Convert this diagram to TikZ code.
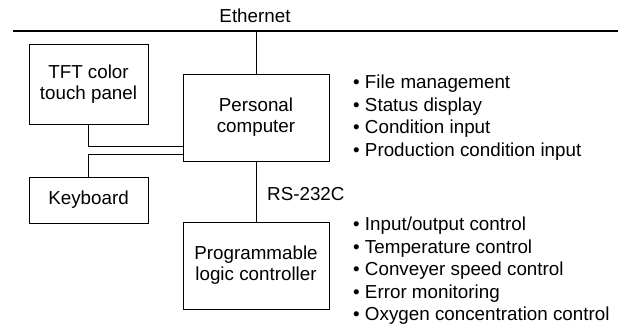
\documentclass[tikz,border=0pt]{standalone}
\usepackage{fontspec}
\setmainfont{Liberation Sans}
\begin{document}
\begin{tikzpicture}[x=1pt,y=-1pt,
  font=\fontsize{18.8}{21}\selectfont,
  unit/.style={draw, line width=1pt, align=center, inner sep=0pt},
  item/.style={anchor=base west, inner sep=0pt},
  wire/.style={line width=1pt}]
\useasboundingbox (0,0) rectangle (621,327);
% network
\node[anchor=base, inner sep=0pt] (eth) at (255,22) {Ethernet};
\coordinate (ethL) at (13,31);
\coordinate (ethR) at (618,31);
\draw[line width=1.3pt] (ethL) -- (ethR);
% units
\node[unit, minimum width=119, minimum height=80] (tft) at (88.5,84) {TFT color\\touch panel};
\node[unit, minimum width=146, minimum height=87] (pc) at (256,117.5) {Personal\\computer};
\node[unit, minimum width=119, minimum height=46] (kbd) at (88.5,200) {Keyboard};
\node[unit, minimum width=146, minimum height=87] (plc) at (256,265.5) {Programmable\\logic controller};
\coordinate (pcin1) at (183,146);
\coordinate (pcin2) at (183,154);
\draw[wire] (pc.north) -- (pc.north |- ethL);
\draw[wire] (tft.south) |- (pcin1);
\draw[wire] (pcin2) -| (kbd.north);
\draw[wire] (pc.south) -- (plc.north);
\node[anchor=base west, inner sep=0pt] (rs) at (267,200) {RS-232C};
% functions of the pc
\node[item] (pc1) at (353,88.5) {• File management};
\node[item] (pc2) at (353,111) {• Status display};
\node[item] (pc3) at (353,133.5) {• Condition input};
\node[item] (pc4) at (353,156) {• Production condition input};
% functions of the plc
\node[item] (plc1) at (353,230.5) {• Input/output control};
\node[item] (plc2) at (353,253) {• Temperature control};
\node[item] (plc3) at (353,275.5) {• Conveyer speed control};
\node[item] (plc4) at (353,298) {• Error monitoring};
\node[item] (plc5) at (353,320) {• Oxygen concentration control};
\end{tikzpicture}
\end{document}
